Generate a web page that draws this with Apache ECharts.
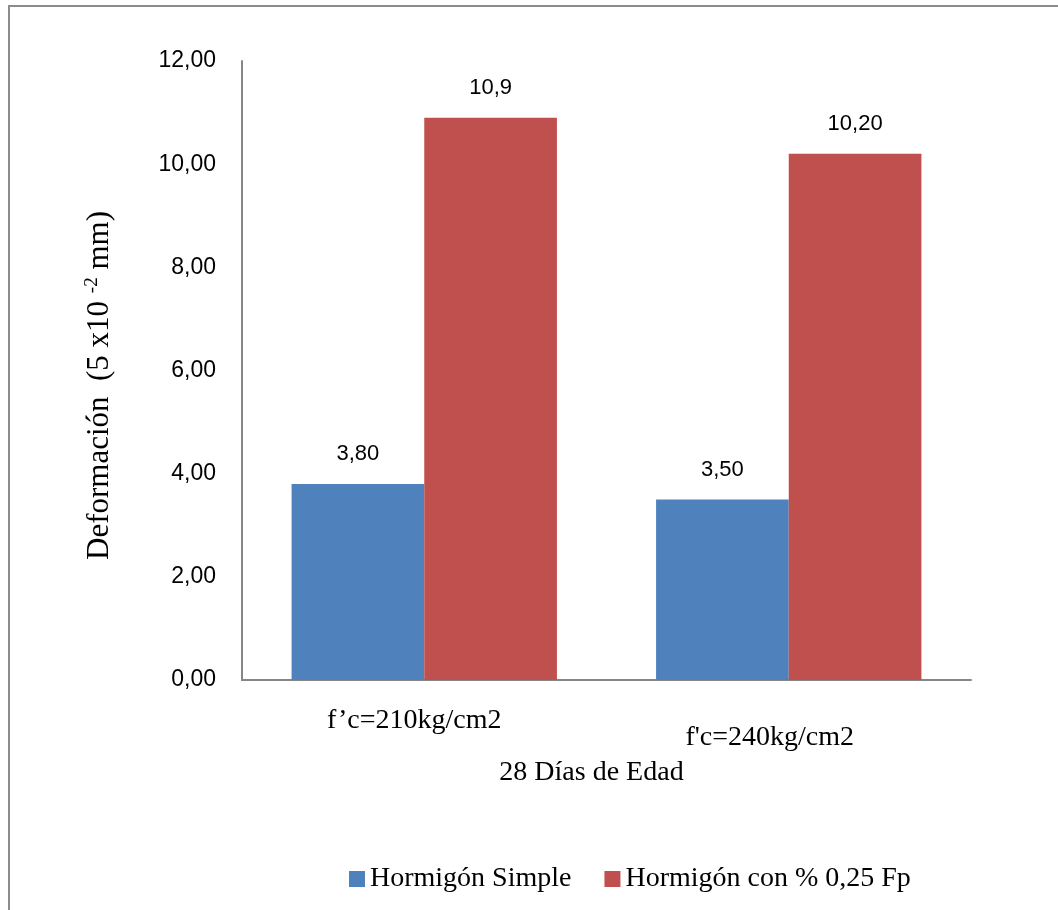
<!DOCTYPE html>
<html>
<head>
<meta charset="utf-8">
<script src="https://cdn.jsdelivr.net/npm/echarts@6/dist/echarts.min.js"></script>
<style>
  html, body { margin: 0; padding: 0; background: #fff; }
  #chart { width: 1058px; height: 910px; }
</style>
</head>
<body>
<div id="chart"></div>
<script>
// Deformation at 28 days, plain concrete vs. concrete with 0.25 % Fp
const categories = ['f\u2019c=210kg/cm2', "f'c=240kg/cm2"];
const seriesNames = ['Hormigón Simple', 'Hormigón con % 0,25 Fp'];
const simpleValues = [3.80, 3.50];
const fiberValues = [10.9, 10.20];
const simpleLabels = ['3,80', '3,50'];
const fiberLabels = ['10,9', '10,20'];
const yTicks = ['0,00', '2,00', '4,00', '6,00', '8,00', '10,00', '12,00'];

const serif = '"Liberation Serif", "Times New Roman", serif';
const sans = '"Liberation Sans", Arial, sans-serif';

const chart = echarts.init(document.getElementById('chart'), null, { renderer: 'canvas' });

chart.setOption({
  backgroundColor: '#ffffff',
  animation: false,
  color: ['#4F81BD', '#C0504D'],
  graphic: [{
    type: 'polyline',
    shape: { points: [[9, 910], [9, 6], [1058, 6]] },
    style: { stroke: '#8c8c8c', lineWidth: 2, fill: null }
  }],
  grid: { left: 242, right: 87, top: 61, bottom: 230 },
  legend: {
    data: seriesNames,
    left: 344,
    top: 860,
    itemWidth: 16,
    itemHeight: 16,
    itemGap: 33,
    icon: 'rect',
    textStyle: { fontFamily: serif, fontSize: 28, color: '#000' }
  },
  xAxis: {
    type: 'category',
    data: categories,
    axisLine: { lineStyle: { color: '#868686', width: 2 } },
    axisTick: { show: false },
    axisLabel: {
      margin: 27,
      formatter: (v, i) => (i === 0 ? '{a|' : '{b|') + v + '}',
      rich: {
        a: { fontFamily: serif, fontSize: 28, color: '#000', padding: [0, 20, 0, 0] },
        b: { fontFamily: serif, fontSize: 28, color: '#000', padding: [17, 38, 0, 0] }
      }
    },
    name: '28 Días de Edad',
    nameLocation: 'middle',
    nameGap: 79,
    nameTextStyle: { fontFamily: serif, fontSize: 28, color: '#000', padding: [0, 30, 0, 0] }
  },
  yAxis: {
    type: 'value',
    min: 0,
    max: 12,
    interval: 2,
    splitLine: { show: false },
    axisLine: { show: true, lineStyle: { color: '#868686', width: 2 } },
    axisTick: { show: false },
    axisLabel: {
      margin: 26,
      fontFamily: sans,
      fontSize: 23,
      color: '#000',
      formatter: (v) => yTicks[Math.round(v / 2)]
    },
    name: '{t|Deformación  (5 x10 }{s|-2}{t| mm)}',
    nameLocation: 'middle',
    nameRotate: 90,
    nameGap: 126,
    nameTextStyle: {
      padding: [0, 30, 0, 0],
      rich: {
        t: { fontFamily: serif, fontSize: 31, color: '#000', lineHeight: 33 },
        s: { fontFamily: serif, fontSize: 19, color: '#000', verticalAlign: 'top', lineHeight: 33 }
      }
    }
  },
  series: [
    {
      name: seriesNames[0],
      type: 'bar',
      data: simpleValues,
      barWidth: '36.4%',
      barGap: '0%',
      label: {
        show: true,
        position: 'top',
        distance: 19,
        fontFamily: sans,
        fontSize: 22,
        color: '#000',
        formatter: (p) => simpleLabels[p.dataIndex]
      }
    },
    {
      name: seriesNames[1],
      type: 'bar',
      data: fiberValues,
      barWidth: '36.4%',
      barGap: '0%',
      label: {
        show: true,
        position: 'top',
        distance: 19,
        fontFamily: sans,
        fontSize: 22,
        color: '#000',
        formatter: (p) => fiberLabels[p.dataIndex]
      }
    }
  ]
});
</script>
</body>
</html>
